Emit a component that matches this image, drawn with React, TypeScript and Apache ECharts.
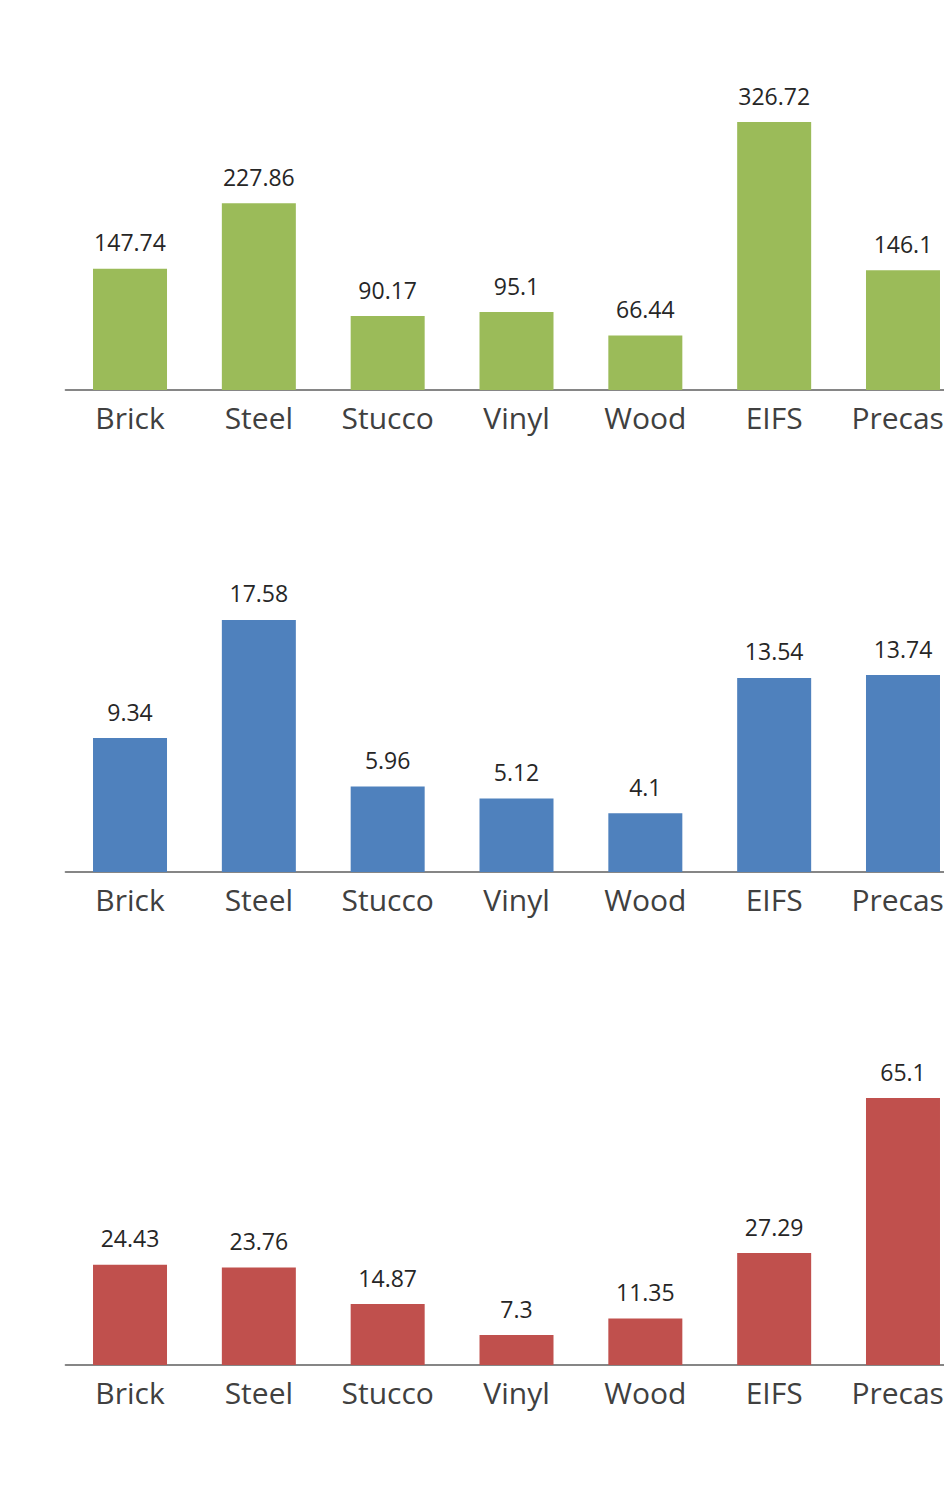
import React, { useEffect, useRef } from "react";
import * as echarts from "echarts";

const categories = ["Brick", "Steel", "Stucco", "Vinyl", "Wood", "EIFS", "Precast"];
const greenValues = [147.74, 227.86, 90.17, 95.1, 66.44, 326.72, 146.1];
const blueValues = [9.34, 17.58, 5.96, 5.12, 4.1, 13.54, 13.74];
const redValues = [24.43, 23.76, 14.87, 7.3, 11.35, 27.29, 65.1];
const axisMax = [400, 20, 80];

const colors = ["#9BBB59", "#4F81BD", "#C0504D"];
const FONT = "'Open Sans', 'Noto Sans', sans-serif";
const CHART_W = 1000;

export default function App() {
  const ref = useRef<HTMLDivElement>(null);
  useEffect(() => {
    document.body.style.margin = "0";
    const chart = echarts.init(ref.current!, null, { renderer: "svg" });
    const right = CHART_W - 65.6 - 7 * 128.83;
    const grids = [
      { left: 65.6, right, top: 62, bottom: 1485 - 390 },
      { left: 65.6, right, top: 872 - 286.7, bottom: 1485 - 872 },
      { left: 65.6, right, top: 1365 - 328, bottom: 1485 - 1365 },
    ];
    const datasets = [greenValues, blueValues, redValues];
    chart.setOption({
      animation: false,
      backgroundColor: "#ffffff",
      grid: grids,
      xAxis: grids.map((_, i) => ({
        type: "category",
        gridIndex: i,
        data: categories,
        axisTick: { show: false },
        axisLine: { lineStyle: { color: "#868686", width: 2 } },
        axisLabel: {
          color: "#404040",
          fontSize: 30,
          fontFamily: FONT,
          margin: 12,
          interval: 0,
        },
      })),
      yAxis: grids.map((_, i) => ({
        type: "value",
        gridIndex: i,
        min: 0,
        max: axisMax[i],
        show: false,
        splitLine: { show: false },
      })),
      series: datasets.map((d, i) => ({
        type: "bar",
        xAxisIndex: i,
        yAxisIndex: i,
        data: d,
        barWidth: 74,
        itemStyle: { color: colors[i] },
        label: {
          show: true,
          position: "top",
          distance: 15,
          color: "#262626",
          fontSize: 23,
          fontFamily: FONT,
        },
      })),
    });
    return () => chart.dispose();
  }, []);
  return (
    <div style={{ width: 944, height: 1485, overflow: "hidden", position: "relative" }}>
      <div ref={ref} style={{ width: CHART_W, height: 1485 }} />
    </div>
  );
}
